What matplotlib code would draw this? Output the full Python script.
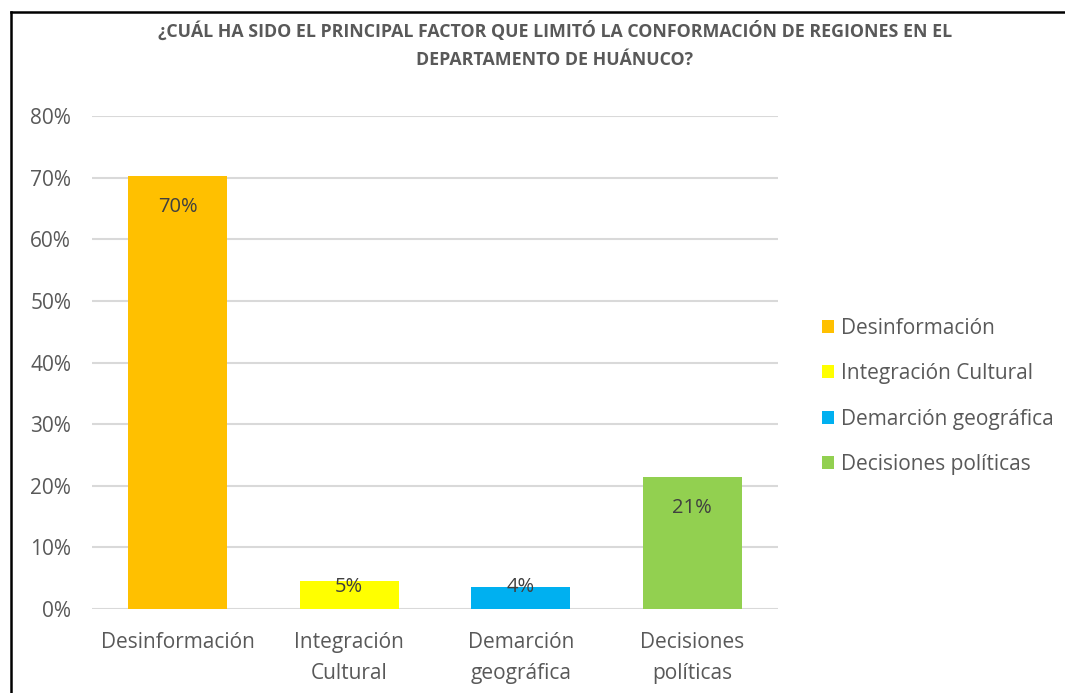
import matplotlib
matplotlib.use("Agg")
import matplotlib.pyplot as plt
from matplotlib.lines import Line2D
from matplotlib.patches import Patch

# Chart data
categories = ["Desinformación", "Integración Cultural", "Demarción geográfica", "Decisiones políticas"]
tick_labels = ["Desinformación", "Integración\nCultural", "Demarción\ngeográfica", "Decisiones\npolíticas"]
values = [0.703, 0.046, 0.036, 0.214]
value_labels = ["70%", "5%", "4%", "21%"]
colors = ["#FFC000", "#FFFF00", "#00B0F0", "#92D050"]
y_ticks = [0.0, 0.1, 0.2, 0.3, 0.4, 0.5, 0.6, 0.7, 0.8]

title = ("¿CUÁL HA SIDO EL PRINCIPAL FACTOR QUE LIMITÓ LA CONFORMACIÓN DE REGIONES EN EL\n"
         "DEPARTAMENTO DE HUÁNUCO?")

plt.rcParams['font.family'] = ['Open Sans', 'DejaVu Sans']
text_color = "#595959"

fig = plt.figure(figsize=(10.65, 6.93), dpi=100)
ax = fig.add_axes([0.0864, 0.1212, 0.6441, 0.7114])

x = range(len(categories))
bars = ax.bar(x, values, width=0.575, color=colors, zorder=2)

# data labels inside the end of each bar
for bar, v, lab in zip(bars, values, value_labels):
    y = max(v - 0.05, 0.035)
    ax.text(bar.get_x() + bar.get_width() / 2, y, lab, ha="center", va="center",
            fontsize=14.5, color="#404040", zorder=3)

ax.set_xlim(-0.5, 3.5)
ax.set_ylim(0, 0.8)
ax.set_yticks(y_ticks)
ax.set_yticklabels([f"{int(round(t * 100))}%" for t in y_ticks])
ax.set_xticks(list(x))
ax.set_xticklabels(tick_labels, linespacing=1.6)
ax.yaxis.grid(True, color="#D9D9D9", linewidth=1.5, zorder=0)
ax.set_axisbelow(True)
for s in ax.spines.values():
    s.set_visible(False)
ax.tick_params(axis="both", length=0, labelsize=15, colors=text_color)
ax.tick_params(axis="y", pad=15)
ax.tick_params(axis="x", pad=16.5)

fig.text(0.521, 0.935, title, ha="center", va="center", fontsize=12.8,
         fontweight="bold", color=text_color, linespacing=1.75)

handles = [Patch(facecolor=c, edgecolor="none") for c in colors]
fig.legend(handles, categories, loc="center left", bbox_to_anchor=(0.7715, 0.428),
           frameon=False, fontsize=15, labelcolor=text_color, handlelength=0.6,
           handleheight=0.6, handletextpad=0.35, labelspacing=1.17,
           borderpad=0, borderaxespad=0)

# outer chart frame (top and left edges visible)
fig.add_artist(Line2D([0.0099, 1.0], [0.9834, 0.9834], color="black", linewidth=1.8,
                      transform=fig.transFigure))
fig.add_artist(Line2D([0.0099, 0.0099], [0.0, 0.9834], color="black", linewidth=1.8,
                      transform=fig.transFigure))

fig.savefig("out.png", dpi=100, facecolor="white")
